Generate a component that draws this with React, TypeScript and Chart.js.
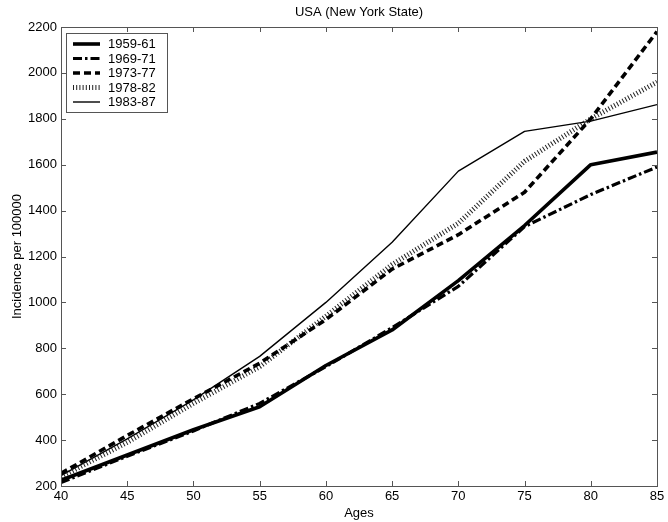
import React, { useEffect, useRef } from "react";
import { Chart, registerables } from "chart.js";

Chart.register(...registerables);

// Age groups (x axis)
const ages = [40, 45, 50, 55, 60, 65, 70, 75, 80, 85];

// Incidence per 100000 by period
const p1959 = [225, 335, 445, 545, 725, 880, 1095, 1335, 1600, 1655];
const p1969 = [215, 330, 440, 560, 720, 890, 1070, 1330, 1470, 1590];
const p1973 = [255, 420, 580, 735, 925, 1145, 1295, 1480, 1800, 2180];
const p1978 = [240, 390, 560, 720, 940, 1165, 1345, 1615, 1800, 1960];
const p1983 = [245, 405, 575, 765, 1000, 1262, 1572, 1745, 1790, 1862];

const periods = ["1959-61", "1969-71", "1973-77", "1978-82", "1983-87"];

const chartTitle = "USA (New York State)";
const xTitle = "Ages";
const yTitle = "Incidence per 100000";

const FONT = "Arial, 'Liberation Sans', sans-serif";

type Style = { width: number; dash: number[]; color: string };
const styles: Style[] = [
  { width: 3.6, dash: [], color: "#000" },
  { width: 3.2, dash: [9, 3, 2.5, 3], color: "#000" },
  { width: 3.6, dash: [7, 4], color: "#000" },
  { width: 5, dash: [1, 2.2], color: "#222" },
  { width: 1.4, dash: [], color: "#000" },
];

const framePlugin = {
  id: "matlabFrame",
  afterDatasetsDraw(chart: any) {
    const { ctx, chartArea: a, scales } = chart;
    const xs = scales.x;
    const ys = scales.y;
    ctx.save();
    // axes box
    ctx.strokeStyle = "#555";
    ctx.lineWidth = 1;
    ctx.setLineDash([]);
    ctx.strokeRect(Math.round(a.left) + 0.5, Math.round(a.top) + 0.5, Math.round(a.right - a.left), Math.round(a.bottom - a.top));
    // inward ticks on all four sides
    const tl = 5;
    ctx.beginPath();
    xs.ticks.forEach((t: any) => {
      const px = Math.round(xs.getPixelForValue(t.value)) + 0.5;
      ctx.moveTo(px, a.bottom);
      ctx.lineTo(px, a.bottom - tl);
      ctx.moveTo(px, a.top);
      ctx.lineTo(px, a.top + tl);
    });
    ys.ticks.forEach((t: any) => {
      const py = Math.round(ys.getPixelForValue(t.value)) + 0.5;
      ctx.moveTo(a.left, py);
      ctx.lineTo(a.left + tl, py);
      ctx.moveTo(a.right, py);
      ctx.lineTo(a.right - tl, py);
    });
    ctx.stroke();

    // legend box
    const lx = 66.5;
    const ly = 33.5;
    const lw = 101;
    const lh = 79;
    ctx.fillStyle = "#fff";
    ctx.fillRect(lx, ly, lw, lh);
    ctx.strokeStyle = "#555";
    ctx.strokeRect(lx, ly, lw, lh);
    ctx.font = `13px ${FONT}`;
    ctx.textBaseline = "middle";
    ctx.textAlign = "left";
    chart.data.datasets.forEach((ds: any, i: number) => {
      const yy = ly + 10.5 + i * 14.5;
      const st = styles[i];
      ctx.strokeStyle = st.color;
      ctx.lineWidth = st.width;
      ctx.setLineDash(st.dash);
      ctx.lineCap = "butt";
      ctx.beginPath();
      ctx.moveTo(lx + 6.5, yy);
      ctx.lineTo(lx + 33.5, yy);
      ctx.stroke();
      ctx.setLineDash([]);
      ctx.fillStyle = "#000";
      ctx.fillText(ds.label, lx + 41.5, yy + 0.5);
    });

    // titles
    ctx.fillStyle = "#000";
    ctx.textAlign = "center";
    ctx.textBaseline = "middle";
    ctx.font = `13px ${FONT}`;
    const cx = (a.left + a.right) / 2;
    ctx.fillText(chartTitle, cx, 12);
    ctx.fillText(xTitle, cx, 513);
    ctx.translate(17, (a.top + a.bottom) / 2);
    ctx.rotate(-Math.PI / 2);
    ctx.fillText(yTitle, 0, 0);
    ctx.restore();
  },
};

export default function App() {
  const ref = useRef<HTMLCanvasElement>(null);

  useEffect(() => {
    document.body.style.margin = "0";
    const seriesValues = [p1959, p1969, p1973, p1978, p1983];
    const datasets = periods.map((label, i) => ({
      label,
      data: ages.map((a, j) => ({ x: a, y: seriesValues[i][j] })),
      borderColor: styles[i].color,
      borderWidth: styles[i].width,
      borderDash: styles[i].dash,
      borderCapStyle: "butt" as const,
      borderJoinStyle: "round" as const,
      pointRadius: 0,
      tension: 0,
      fill: false,
    }));
    const chart = new Chart(ref.current!, {
      type: "line",
      data: { datasets },
      options: {
        animation: false,
        responsive: false,
        devicePixelRatio: 1,
        layout: { padding: { top: 27, right: 11, left: 0, bottom: 0 } },
        plugins: {
          legend: { display: false },
          title: { display: false },
          tooltip: { enabled: false },
        },
        scales: {
          x: {
            type: "linear",
            min: 40,
            max: 85,
            ticks: {
              stepSize: 5,
              color: "#000",
              font: { size: 13, family: FONT },
              padding: 3,
              maxRotation: 0,
              callback: (v: any) => String(v),
            },
            grid: { display: false, drawTicks: false },
            border: { display: false },
            afterFit: (s: any) => {
              s.height = 36;
            },
          },
          y: {
            type: "linear",
            min: 200,
            max: 2200,
            ticks: {
              stepSize: 200,
              color: "#000",
              font: { size: 13, family: FONT },
              padding: 4,
              callback: (v: any) => String(v),
            },
            grid: { display: false, drawTicks: false },
            border: { display: false },
            afterFit: (s: any) => {
              s.width = 61;
            },
          },
        },
      },
      plugins: [framePlugin],
    });
    return () => chart.destroy();
  }, []);

  return (
    <div style={{ width: 668, height: 522, background: "#fff" }}>
      <canvas ref={ref} width={668} height={522} style={{ display: "block" }} />
    </div>
  );
}
